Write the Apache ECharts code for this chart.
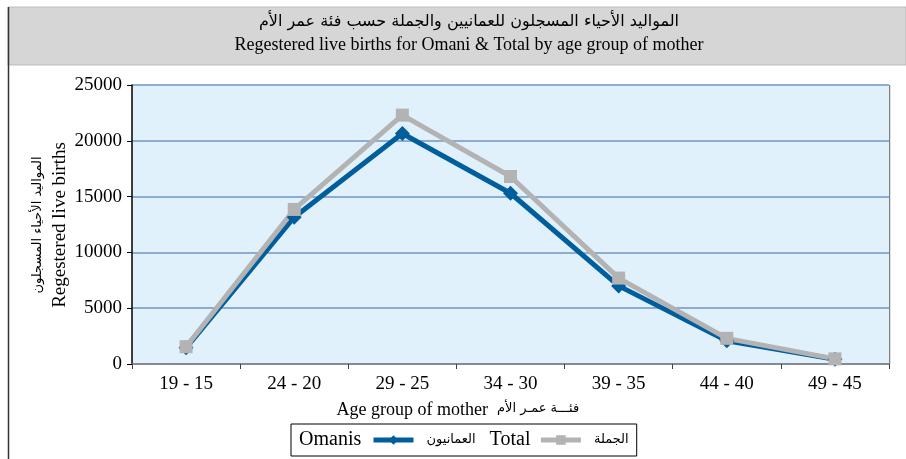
<!DOCTYPE html>
<html>
<head>
<meta charset="utf-8">
<script src="https://cdn.jsdelivr.net/npm/echarts@6/dist/echarts.min.js"></script>
<style>
  html, body { margin: 0; padding: 0; background: #fff; }
  #chart { width: 906px; height: 459px; }
</style>
</head>
<body>
<div id="chart"></div>
<script>
// age groups of mother (as printed)
const ageGroups = ['19 - 15', '24 - 20', '29 - 25', '34 - 30', '39 - 35', '44 - 40', '49 - 45']
// registered live births
const omanis = [1450, 13150, 20650, 15300, 7000, 2080, 430]
const total = [1550, 13850, 22300, 16800, 7700, 2300, 460]

const serif = '"Liberation Serif", "DejaVu Serif", serif'
const arab = '"DejaVu Sans", "Noto Sans", sans-serif'

var myChart = echarts.init(document.getElementById('chart'))
var option = {
  backgroundColor: '#fff',
  animation: false,
  title: {
    text: 'المواليد الأحياء المسجلون للعمانيين والجملة حسب فئة عمر الأم',
    subtext: 'Regestered live births for Omani & Total by age group of mother',
    left: 464,
    top: 9,
    textAlign: 'center',
    itemGap: 6,
    textStyle: { fontFamily: arab, fontSize: 16, fontWeight: 'normal', color: '#000' },
    subtextStyle: { fontFamily: serif, fontSize: 18, color: '#000' }
  },
  grid: {
    left: 132,
    right: 17,
    top: 85,
    bottom: 95
  },
  legend: {
    left: 291,
    top: 424,
    padding: [6, 8, 6, 80],
    borderColor: '#000',
    borderWidth: 1,
    itemWidth: 40,
    itemHeight: 12,
    itemGap: 8,
    lineStyle: { width: 5 },
    data: ['Omanis', 'Total'],
    formatter: function (name) {
      if (name === 'Omanis') return '{ar|العمانيون}{en|Total}'
      return '{ar|الجملة}'
    },
    textStyle: {
      color: '#000',
      rich: {
        ar: { fontFamily: arab, fontSize: 13, color: '#000', padding: [0, 0, 0, 8] },
        en: { fontFamily: serif, fontSize: 20, color: '#000', padding: [0, 0, 0, 14] }
      }
    }
  },
  xAxis: {
    type: 'category',
    data: ageGroups,
    boundaryGap: true,
    axisLine: { lineStyle: { color: '#808080', width: 1.5 } },
    axisTick: { show: true, length: 5, lineStyle: { color: '#404040' } },
    axisLabel: { fontFamily: serif, fontSize: 19, color: '#000', margin: 11 }
  },
  yAxis: {
    type: 'value',
    min: 0,
    max: 25000,
    interval: 5000,
    axisLine: { show: true, lineStyle: { color: '#000', width: 1.5 } },
    axisTick: { show: true, length: 5, lineStyle: { color: '#000' } },
    axisLabel: {
      fontFamily: serif,
      fontSize: 19,
      color: '#000',
      margin: 10,
      formatter: function (v) { return String(v) }
    },
    splitLine: { show: true, lineStyle: { color: '#6e95c8', width: 1.5 } },
    splitArea: { show: true, areaStyle: { color: ['#e0f1fb', '#e0f1fb'] } }
  },
  series: [
    {
      name: 'Omanis',
      type: 'line',
      data: omanis,
      symbol: 'diamond',
      symbolSize: 15,
      lineStyle: { color: '#005e9c', width: 5 },
      itemStyle: { color: '#005e9c' }
    },
    {
      name: 'Total',
      type: 'line',
      data: total,
      symbol: 'rect',
      symbolSize: 13,
      lineStyle: { color: '#b3b3b3', width: 5 },
      itemStyle: { color: '#b3b3b3' }
    }
  ],
  graphic: [
    // title band and left frame line
    { type: 'rect', z: -10, shape: { x: 8, y: 7, width: 898, height: 58 }, style: { fill: '#d6d6d6', stroke: '#bdbdbd', lineWidth: 1 } },
    { type: 'line', shape: { x1: 8.5, y1: 7, x2: 8.5, y2: 459 }, style: { stroke: '#333', lineWidth: 1.5 } },
    // plot right border
    { type: 'line', shape: { x1: 889.5, y1: 85, x2: 889.5, y2: 364 }, style: { stroke: '#808080', lineWidth: 1.5 } },
    // y axis name (two lines, rotated)
    { type: 'text', x: 38, y: 225, rotation: Math.PI / 2,
      style: { text: 'المواليد الأحياء المسجلون', font: '13px ' + arab, fill: '#000', align: 'center', verticalAlign: 'middle' } },
    { type: 'text', x: 60, y: 225, rotation: Math.PI / 2,
      style: { text: 'Regestered live births', font: '19px ' + serif, fill: '#000', align: 'center', verticalAlign: 'middle' } },
    // x axis name
    { type: 'text', x: 488, y: 410,
      style: { text: 'Age group of mother', font: '18px ' + serif, fill: '#000', align: 'right', verticalAlign: 'middle' } },
    { type: 'text', x: 497, y: 409,
      style: { text: 'فئـــة عمـر الأم', font: '13px ' + arab, fill: '#000', align: 'left', verticalAlign: 'middle' } },
    // English name in front of the first legend item
    { type: 'text', x: 299, y: 440, z: 10,
      style: { text: 'Omanis', font: '20px ' + serif, fill: '#000', align: 'left', verticalAlign: 'middle' } }
  ]
}
myChart.setOption(option)
</script>
</body>
</html>
